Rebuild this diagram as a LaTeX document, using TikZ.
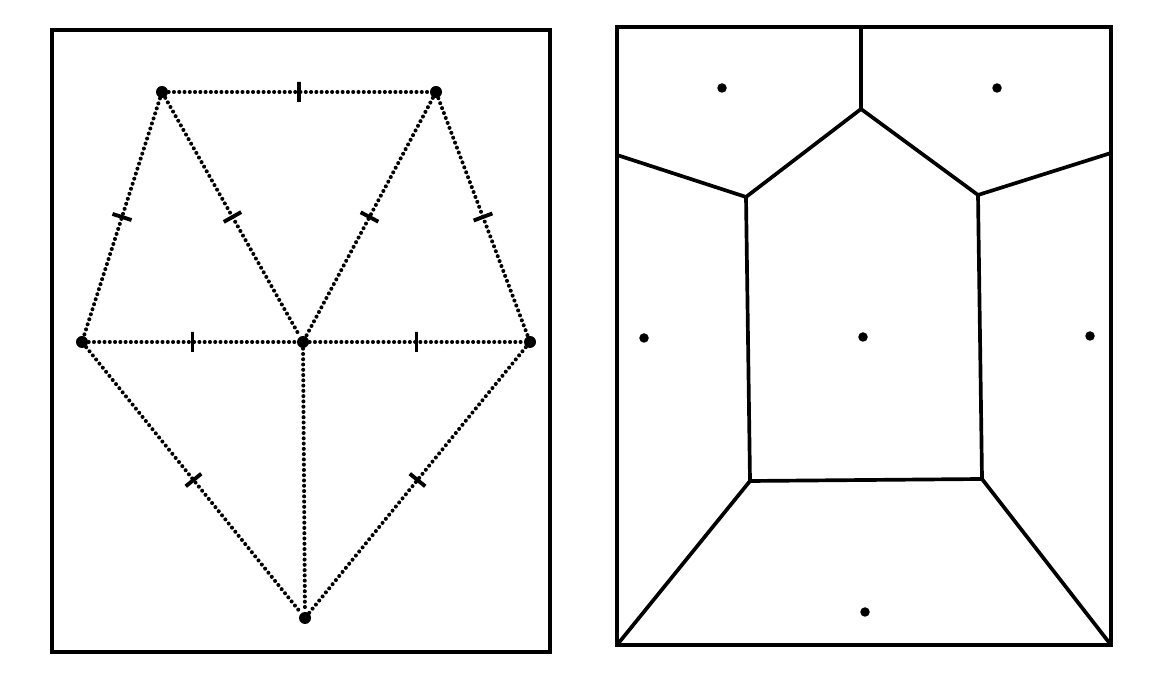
\documentclass[tikz,border=0pt]{standalone}
\usetikzlibrary{positioning}

\begin{document}
\begin{tikzpicture}[
        x=0.1mm, y=-0.1mm,
        panel/.style={draw=black, line width=0.9pt},
        vertex/.style={circle, fill=black, inner sep=0pt, minimum size=1.2mm},
        site/.style={circle, fill=black, inner sep=0pt, minimum size=0.95mm},
        triline/.style={line width=1.15pt, line cap=round, dash pattern=on 0pt off 1.5pt},
        midtick/.style={sloped, draw, solid, line width=1.1pt, inner sep=0pt, minimum width=0pt, minimum height=2mm},
        cell/.style={line width=1.05pt, line join=miter}
    ]
        \useasboundingbox (0,0) rectangle (1157,673);

        \draw[panel] (52,30) rectangle (550,652);
        \node[vertex] (TL) at (162,92) {};
        \node[vertex] (TR) at (436,92) {};
        \node[vertex] (LL) at (82,342) {};
        \node[vertex] (CC) at (303,342) {};
        \node[vertex] (RR) at (530,342) {};
        \node[vertex] (BB) at (305,618) {};

        \draw[triline] (TL) -- node[midtick] {} (TR);
        \draw[triline] (TL) -- node[midtick] {} (LL);
        \draw[triline] (TL) -- node[midtick] {} (CC);
        \draw[triline] (TR) -- node[midtick] {} (CC);
        \draw[triline] (TR) -- node[midtick] {} (RR);
        \draw[triline] (LL) -- node[midtick] {} (CC);
        \draw[triline] (CC) -- node[midtick] {} (RR);
        \draw[triline] (LL) -- node[midtick] {} (BB);
        \draw[triline] (RR) -- node[midtick] {} (BB);
        \draw[triline] (CC) -- (BB);

        \draw[panel] (617,27) rectangle (1111,645);
        \coordinate (TOP) at (861,27);
        \coordinate (J) at (861,109);
        \coordinate (P1) at (746,197);
        \coordinate (P2) at (978,195);
        \coordinate (P3) at (750,481);
        \coordinate (P4) at (982,479);
        \coordinate (EL) at (617,155);
        \coordinate (ER) at (1111,153);
        \coordinate (CL) at (617,645);
        \coordinate (CR) at (1111,645);

        \draw[cell] (TOP) -- (J);
        \draw[cell] (EL) -- (P1) -- (J) -- (P2) -- (ER);
        \draw[cell] (P1) -- (P3) -- (P4) -- (P2);
        \draw[cell] (CL) -- (P3);
        \draw[cell] (CR) -- (P4);

        \node[site] (S1) at (722,88) {};
        \node[site] (S2) at (997,88) {};
        \node[site] (S3) at (644,338) {};
        \node[site] (S4) at (863,337) {};
        \node[site] (S5) at (1090,336) {};
        \node[site] (S6) at (865,612) {};
\end{tikzpicture}
\end{document}
